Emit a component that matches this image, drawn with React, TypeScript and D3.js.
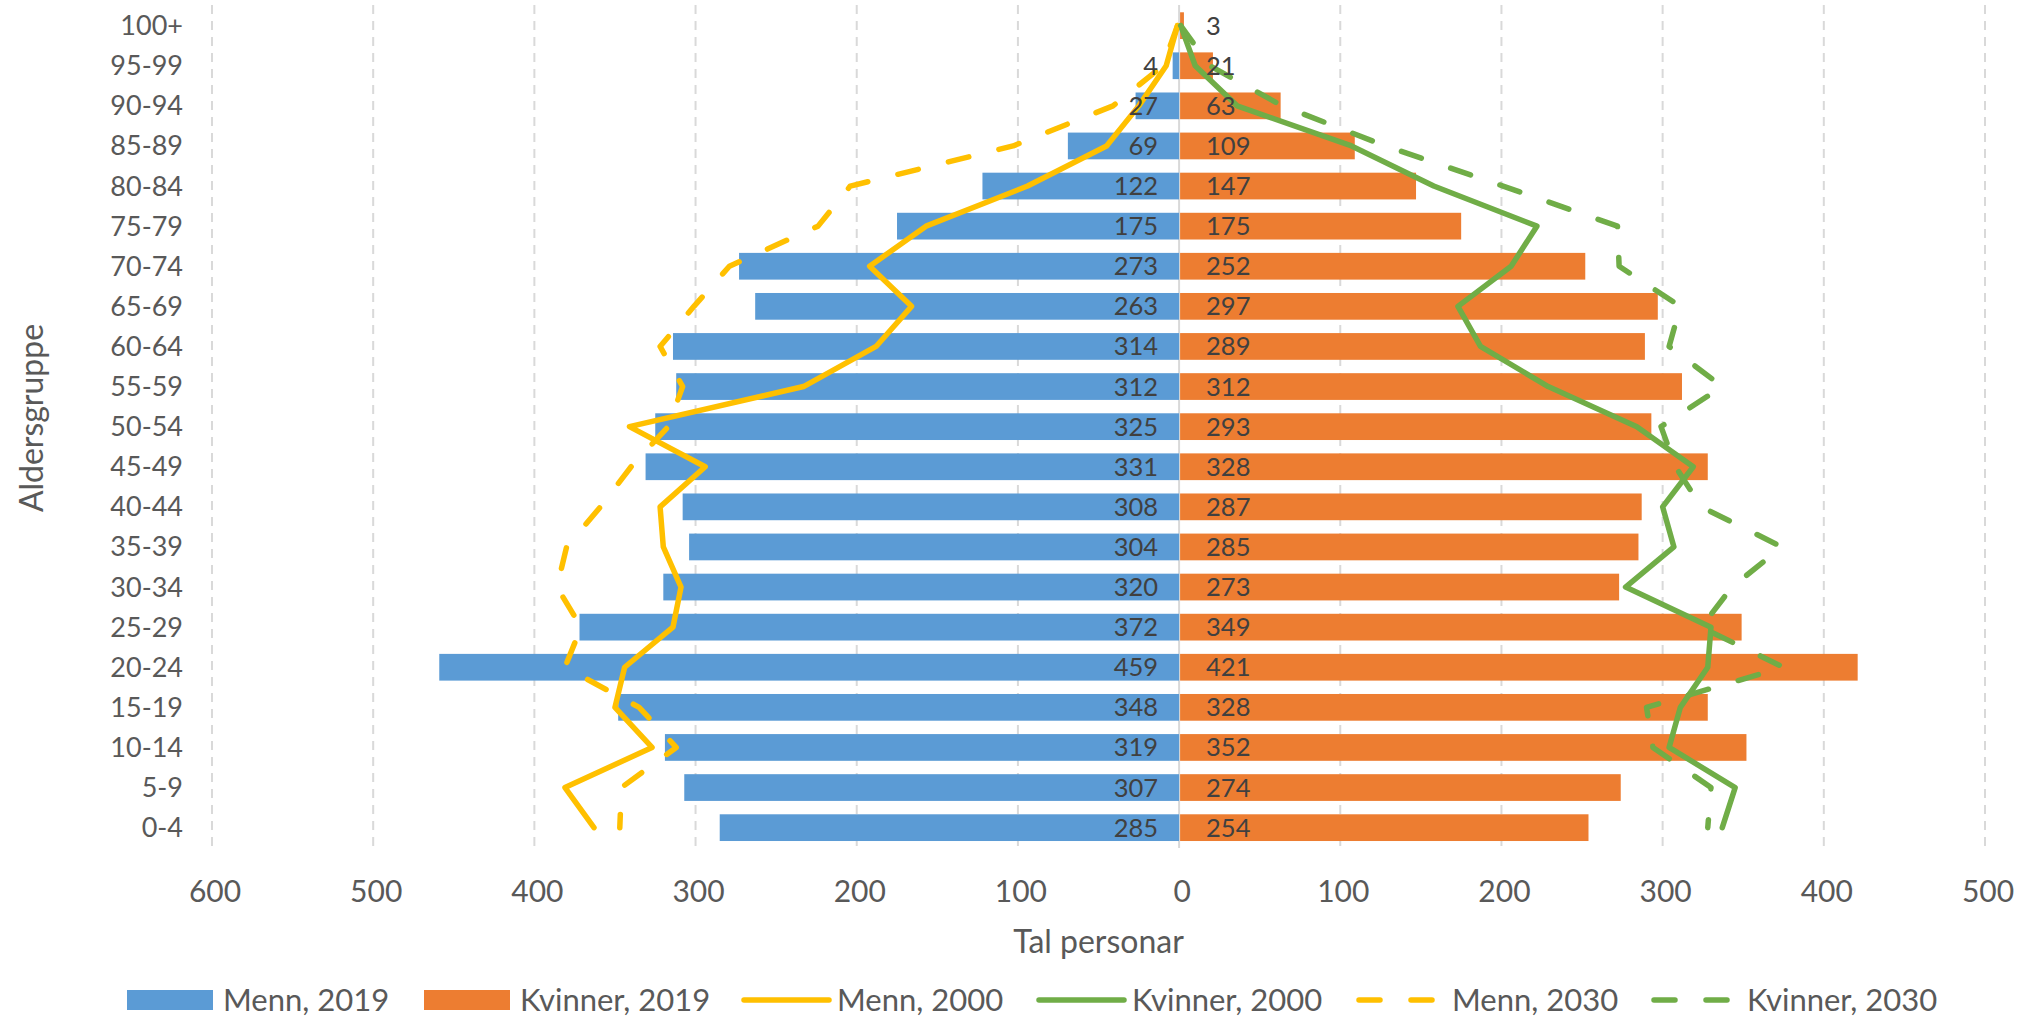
import React from 'react';
import * as d3 from 'd3';

// Age groups, top to bottom as drawn
const ageGroups = ['100+', '95-99', '90-94', '85-89', '80-84', '75-79', '70-74', '65-69', '60-64', '55-59',
    '50-54', '45-49', '40-44', '35-39', '30-34', '25-29', '20-24', '15-19', '10-14', '5-9', '0-4'];

const menn2019 = [0, 4, 27, 69, 122, 175, 273, 263, 314, 312, 325, 331, 308, 304, 320, 372, 459, 348, 319, 307, 285];
const kvinner2019 = [3, 21, 63, 109, 147, 175, 252, 297, 289, 312, 293, 328, 287, 285, 273, 349, 421, 328, 352, 274, 254];

const menn2000 = [1, 8, 25, 45, 94, 157, 192, 166, 188, 233, 341, 294, 322, 320, 309, 314, 344, 350, 327, 381, 363];
const kvinner2000 = [1, 10, 36, 107, 158, 222, 206, 173, 187, 229, 284, 319, 300, 307, 277, 330, 328, 311, 304, 345, 337];
const menn2030 = [1, 10, 41, 103, 204, 224, 279, 301, 322, 308, 317, 340, 359, 380, 386, 371, 381, 335, 312, 346, 347];
const kvinner2030 = [1, 19, 64, 128, 201, 272, 273, 311, 304, 337, 299, 308, 324, 374, 343, 324, 375, 290, 294, 330, 328];

const xTicks = [-600, -500, -400, -300, -200, -100, 0, 100, 200, 300, 400, 500];

const BLUE = '#5B9BD5';
const ORANGE = '#ED7D31';
const GOLD = '#FFC000';
const GREEN = '#70AD47';
const FONT = 'Lato, "Open Sans", sans-serif';

const W = 2039;
const H = 1018;

export default function App() {
    const x = d3.scaleLinear().domain([-600, 500]).range([212, 1985]);
    const y = d3.scaleBand<string>().domain(ageGroups).range([5.6, 847.7]).paddingInner(1 / 3).paddingOuter(1 / 6);
    const yc = (i: number) => (y(ageGroups[i]) ?? 0) + y.bandwidth() / 2;

    // left side values are men, drawn to negative x
    const lineLeft = d3.line<number>().x((d) => x(-d)).y((_d, i) => yc(i));
    const lineRight = d3.line<number>().x((d) => x(d)).y((_d, i) => yc(i));

    const lines = [
        { data: menn2000, gen: lineLeft, color: GOLD, dash: false },
        { data: kvinner2000, gen: lineRight, color: GREEN, dash: false },
        { data: menn2030, gen: lineLeft, color: GOLD, dash: true },
        { data: kvinner2030, gen: lineRight, color: GREEN, dash: true },
    ];

    const legend = [
        { label: 'Menn, 2019', x: 127, kind: 'bar', color: BLUE },
        { label: 'Kvinner, 2019', x: 424, kind: 'bar', color: ORANGE },
        { label: 'Menn, 2000', x: 741, kind: 'line', color: GOLD },
        { label: 'Kvinner, 2000', x: 1036, kind: 'line', color: GREEN },
        { label: 'Menn, 2030', x: 1356, kind: 'dash', color: GOLD },
        { label: 'Kvinner, 2030', x: 1651, kind: 'dash', color: GREEN },
    ];

    return (
        <div style={{ position: 'fixed', left: 0, top: 0, width: W, height: H, background: '#fff' }}>
            <svg width={W} height={H} style={{ fontFamily: FONT }}>
                {/* grid */}
                {xTicks.filter((t) => t !== 0).map((t) => (
                    <line key={t} x1={x(t)} x2={x(t)} y1={5} y2={848}
                        stroke="#D9D9D9" strokeWidth={2} strokeDasharray="9 7" />
                ))}
                <line x1={x(0)} x2={x(0)} y1={5} y2={848} stroke="#D9D9D9" strokeWidth={2} />

                {/* bars */}
                {menn2019.map((v, i) => (
                    <rect key={'m' + i} x={x(-v)} y={y(ageGroups[i])} width={x(0) - x(-v)}
                        height={y.bandwidth()} fill={BLUE} />
                ))}
                {kvinner2019.map((v, i) => (
                    <rect key={'k' + i} x={x(0) + 1} y={y(ageGroups[i])} width={Math.max(0, x(v) - x(0) - 1)}
                        height={y.bandwidth()} fill={ORANGE} />
                ))}

                {/* lines */}
                {lines.map((l, j) => (
                    <path key={j} d={l.gen(l.data) ?? ''} fill="none" stroke={l.color} strokeWidth={5.5}
                        strokeLinejoin="round" strokeLinecap="round"
                        strokeDasharray={l.dash ? '21 31' : undefined} />
                ))}

                {/* data labels */}
                {menn2019.map((v, i) => v > 0 && (
                    <text key={'ml' + i} x={x(0) - 21} y={yc(i) + 9} textAnchor="end"
                        fontSize={25.5} fill="#404040">{v}</text>
                ))}
                {kvinner2019.map((v, i) => (
                    <text key={'kl' + i} x={x(0) + 27} y={yc(i) + 9} textAnchor="start"
                        fontSize={25.5} fill="#404040">{v}</text>
                ))}

                {/* y axis labels */}
                {ageGroups.map((g, i) => (
                    <text key={g} x={183} y={yc(i) + 9.5} textAnchor="end" fontSize={27} fill="#595959">{g}</text>
                ))}
                <text transform="translate(43,418) rotate(-90)" textAnchor="middle" fontSize={32} fill="#595959">
                    Aldersgruppe
                </text>

                {/* x axis labels */}
                {xTicks.map((t) => (
                    <text key={t} x={x(t) + 3} y={902} textAnchor="middle" fontSize={30} fill="#595959">
                        {Math.abs(t)}
                    </text>
                ))}
                <text x={(x(-600) + x(500)) / 2} y={953} textAnchor="middle" fontSize={32} fill="#595959">Tal personar</text>

                {/* legend */}
                {legend.map((l) => (
                    <g key={l.label} transform={`translate(${l.x},1000)`}>
                        {l.kind === 'bar' && <rect x={0} y={-10} width={86} height={20} fill={l.color} />}
                        {l.kind === 'line' && <line x1={3} x2={88} y1={0} y2={0} stroke={l.color} strokeWidth={5.5} strokeLinecap="round" />}
                        {l.kind === 'dash' && <line x1={3} x2={86} y1={0} y2={0} stroke={l.color} strokeWidth={5.5}
                            strokeLinecap="round" strokeDasharray="21 31" />}
                        <text x={96} y={10.5} fontSize={31} fill="#595959">{l.label}</text>
                    </g>
                ))}
            </svg>
        </div>
    );
}
